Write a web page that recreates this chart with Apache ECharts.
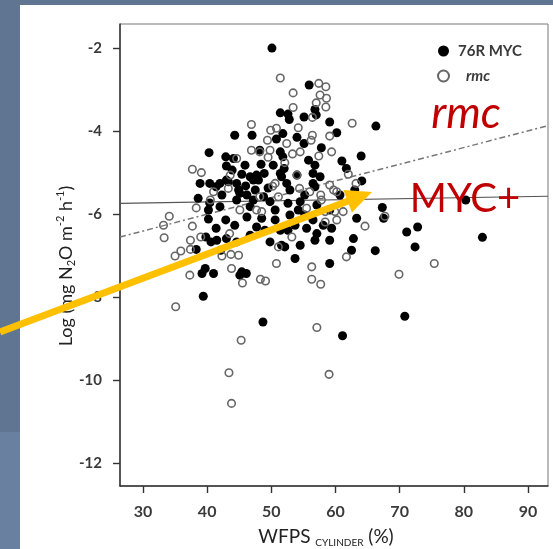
<!DOCTYPE html>
<html>
<head>
<meta charset="utf-8">
<script src="https://cdn.jsdelivr.net/npm/echarts@6/dist/echarts.min.js"></script>
<style>
html, body { margin: 0; padding: 0; background: #5f7591; }
#chart { width: 553px; height: 549px; }
</style>
</head>
<body>
<div id="chart"></div>
<script>
// Axis tick values
const xTicks = [30, 40, 50, 60, 70, 80, 90];
const yTicks = [-12, -10, -8, -6, -4, -2];

// 76R MYC plots: [WFPS %, log N2O flux]
const mycPoints = [
  [50.1,-2.00],[55.9,-2.89],[56.8,-3.48],[51.4,-3.56],[52.6,-3.59],[52.8,-3.72],[55.1,-3.66],[57.0,-3.61],[59.1,-3.78],[66.3,-3.88],
  [44.3,-4.10],[47.0,-4.10],[51.8,-4.06],[60.2,-4.04],[54.0,-4.15],[50.8,-4.19],[55.1,-4.30],[57.8,-4.40],[51.4,-4.50],[51.8,-4.62],
  [42.9,-4.62],[44.1,-4.66],[40.3,-4.52],[43.0,-4.84],[45.4,-5.04],[38.9,-5.26],[40.4,-5.26],[41.4,-5.34],[43.0,-5.18],[46.7,-5.10],
  [47.7,-5.06],[48.9,-5.02],[48.4,-4.80],[50.3,-4.82],[51.4,-5.02],[52.0,-4.90],[54.0,-5.06],[56.5,-5.02],[57.6,-5.10],[56.5,-5.26],
  [61.0,-4.72],[61.7,-4.90],[64.0,-4.60],[64.1,-5.20],[46.0,-5.32],[44.6,-5.26],[38.6,-5.62],[44.9,-5.42],[46.2,-5.54],[47.2,-5.66],
  [48.8,-5.58],[49.8,-5.70],[52.6,-5.74],[54.5,-5.70],[57.1,-5.78],[40.4,-5.73],[42.0,-5.82],[43.3,-5.22],
  [40.2,-5.90],[42.9,-6.14],[40.2,-6.12],[41.4,-6.34],[39.8,-6.55],[40.6,-6.67],[41.5,-6.63],[42.1,-6.87],[38.3,-6.85],[44.6,-6.67],
  [39.7,-7.31],[39.2,-7.43],[45.4,-7.39],[47.2,-5.18],[46.7,-5.82],[45.1,-5.50],[44.6,-5.66],[46.2,-6.07],[47.7,-6.31],[48.2,-4.46],
  [55.8,-4.70],[56.8,-4.82],[56.8,-5.34],[63.0,-5.42],[54.2,-5.90],[59.4,-6.34],[58.1,-6.27],[56.5,-6.14],[55.5,-6.34],[57.1,-6.47],
  [56.8,-6.63],[62.8,-6.59],[63.3,-6.10],[62.5,-6.87],[59.1,-7.19],[53.7,-7.07],[52.1,-6.79],[51.6,-6.75],[49.8,-6.67],[52.6,-6.39],
  [50.6,-6.14],[48.5,-6.10],[50.6,-5.90],[48.0,-5.18],[51.6,-5.10],[52.4,-5.26],[53.7,-6.27],[41.0,-7.43],[45.1,-7.47],[46.1,-7.43],
  [39.4,-7.98],[48.7,-8.60],[61.1,-8.93],[67.3,-5.84],[67.5,-6.10],[71.1,-6.43],[72.8,-6.31],[72.4,-6.79],[66.2,-6.88],[80.3,-5.66],
  [82.9,-6.56],[70.8,-8.46],[43.0,-6.59],[42.0,-5.26],[43.9,-4.94],[45.9,-4.82],[47.5,-5.42],[49.5,-5.37],[52.9,-5.42],[55.2,-5.54],
  [52.9,-6.02],[51.4,-6.39],[55.2,-6.02],[49.0,-6.39],[46.7,-6.51],[59.1,-5.90],[60.7,-5.54],[54.5,-6.75],[59.1,-6.63],[44.3,-6.27],
  [42.3,-5.54]
];

// rmc plots: [WFPS %, log N2O flux]
const rmcPoints = [
  [51.4,-2.72],[57.4,-2.85],[58.5,-2.93],[53.4,-3.08],[57.6,-3.13],[58.6,-3.21],[57.0,-3.32],[58.5,-3.42],[53.4,-3.43],[56.4,-3.67],
  [62.6,-3.81],[46.9,-3.84],[49.9,-3.98],[50.8,-3.93],[54.2,-3.92],[59.1,-4.12],[56.4,-4.10],[49.4,-4.22],[52.4,-4.30],[56.2,-4.22],
  [54.5,-4.50],[53.3,-4.55],[59.4,-4.50],[57.4,-4.60],[48.2,-4.50],[46.9,-4.46],[44.6,-4.66],[37.7,-4.92],[39.1,-5.00],[43.6,-5.06],
  [49.5,-4.63],[52.1,-4.76],[62.0,-5.04],[63.2,-5.26],[59.7,-5.42],[60.2,-5.46],[54.4,-5.38],[50.2,-5.33],[43.3,-5.38],[41.0,-5.46],
  [38.3,-5.85],[34.1,-6.05],[45.1,-5.90],[51.1,-5.58],[56.0,-5.46],[57.7,-5.54],[59.1,-5.30],[49.8,-4.46],[40.5,-5.66],
  [33.2,-6.27],[33.3,-6.57],[37.7,-6.29],[43.5,-6.47],[39.0,-6.55],[37.4,-6.63],[37.4,-6.85],[35.9,-6.89],[35.0,-7.01],[42.3,-7.01],
  [43.7,-6.97],[44.9,-6.99],[37.3,-7.47],[43.8,-7.31],[47.7,-5.90],[55.5,-5.86],[57.8,-5.66],[58.4,-5.94],[59.9,-5.94],[61.2,-5.94],
  [60.2,-6.14],[58.4,-6.19],[64.6,-6.29],[61.7,-7.03],[56.3,-7.27],[51.1,-6.79],[50.8,-7.19],[53.2,-6.55],[48.5,-5.94],[48.2,-5.58],
  [50.6,-5.26],[54.0,-5.06],[45.5,-7.66],[48.3,-7.57],[49.1,-7.61],[56.3,-7.57],[57.7,-7.69],[35.1,-8.23],[57.1,-8.73],[45.3,-9.04],
  [43.4,-9.82],[59.0,-9.86],[43.8,-10.56],[75.4,-7.19],[69.9,-7.45],[67.7,-6.05]
];

// Regression lines across the plotted WFPS range
const mycFit = [[26.42, -5.74], [93.12, -5.57]];
const rmcFit = [[26.42, -6.55], [93.12, -3.87]];

const FONT = 'Lato, "Open Sans", sans-serif';
const chart = echarts.init(document.getElementById('chart'), null, { renderer: 'canvas' });

// Yellow pointer arrow (tail and tip in pixels)
const tail = [0, 332], tip = [372, 192];
const dx = tip[0] - tail[0], dy = tip[1] - tail[1];
const len = Math.hypot(dx, dy), ux = dx / len, uy = dy / len;
const headLen = 26, headHalf = 12;
const base = [tip[0] - ux * headLen, tip[1] - uy * headLen];
const nx = -uy, ny = ux;

const option = {
  backgroundColor: '#5f7591',
  animation: false,
  grid: {
    left: 120, top: 24, right: 5, bottom: 63,
    show: true, backgroundColor: '#fff', borderColor: '#777', borderWidth: 1
  },
  xAxis: {
    type: 'value', min: 26.42, max: 93.12,
    axisLine: { show: true, onZero: false, lineStyle: { color: '#333', width: 1.5 } },
    axisTick: { show: true, length: 7, customValues: xTicks, lineStyle: { color: '#333', width: 1.4 } },
    axisLabel: { customValues: xTicks, margin: 18, fontFamily: FONT, fontSize: 16, fontWeight: 'bold', color: '#3a3a3a' },
    splitLine: { show: false }
  },
  yAxis: {
    type: 'value', min: -12.55, max: -1.42,
    axisLine: { show: true, onZero: false, lineStyle: { color: '#333', width: 1.5 } },
    axisTick: { show: true, length: 7, customValues: yTicks, lineStyle: { color: '#333', width: 1.4 } },
    axisLabel: { customValues: yTicks, margin: 18, fontFamily: FONT, fontSize: 15, fontWeight: 'bold', color: '#3a3a3a' },
    splitLine: { show: false }
  },
  legend: {
    orient: 'vertical', left: 432, top: 38,
    itemWidth: 11, itemHeight: 11, itemGap: 9, icon: 'circle',
    data: ['76R MYC', 'rmc'],
    formatter: n => (n === 'rmc' ? '{i|rmc}' : n),
    textStyle: {
      fontFamily: FONT, fontSize: 15, fontWeight: 'bold', color: '#3a3a3a', lineHeight: 16, padding: [0, 0, 0, 4],
      rich: { i: { fontFamily: FONT, fontSize: 15, fontStyle: 'italic', fontWeight: 'bold', color: '#3a3a3a', padding: [0, 0, 0, 8] } }
    }
  },
  series: [
    {
      name: 'MYC fit', type: 'line', data: mycFit, symbol: 'none', silent: true, z: 2,
      lineStyle: { color: '#555', width: 1.2 }
    },
    {
      name: 'rmc fit', type: 'line', data: rmcFit, symbol: 'none', silent: true, z: 2,
      lineStyle: { color: '#777', width: 1.5, type: [6, 3, 2, 3] }
    },
    {
      name: '76R MYC', type: 'scatter', data: mycPoints, symbol: 'circle', symbolSize: 9, z: 3,
      itemStyle: { color: '#000', opacity: 1 }
    },
    {
      name: 'rmc', type: 'scatter', data: rmcPoints, symbol: 'circle', symbolSize: 7.5, z: 4,
      itemStyle: { color: 'rgba(255,255,255,0)', borderColor: '#666', borderWidth: 1.6, opacity: 1 }
    }
  ],
  graphic: [
    { type: 'rect', z: -10, shape: { x: 20, y: 5, width: 533, height: 544 }, style: { fill: '#fff' } },
    { type: 'rect', z: -10, shape: { x: 0, y: 432, width: 20, height: 117 }, style: { fill: '#6a80a0' } },
    {
      type: 'text', z: 50, x: 66, y: 266, rotation: Math.PI / 2,
      style: {
        text: 'Log (mg N{sub|2}O m{sup|-2} h{sup|-1})',
        align: 'center', verticalAlign: 'middle',
        fontFamily: FONT, fontSize: 18, fill: '#222', lineHeight: 22,
        rich: {
          sub: { fontFamily: FONT, fontSize: 11, fill: '#222', verticalAlign: 'bottom', lineHeight: 11 },
          sup: { fontFamily: FONT, fontSize: 11, fill: '#222', verticalAlign: 'top', lineHeight: 11 }
        }
      }
    },
    {
      type: 'text', z: 50, x: 326, y: 537,
      style: {
        text: 'WFPS {sub|CYLINDER} (%)',
        align: 'center', verticalAlign: 'middle',
        fontFamily: FONT, fontSize: 19, fill: '#222', lineHeight: 22,
        rich: { sub: { fontFamily: FONT, fontSize: 10, fill: '#222', verticalAlign: 'bottom', lineHeight: 8 } }
      }
    },
    {
      type: 'text', z: 50, x: 466, y: 114,
      style: { text: 'rmc', align: 'center', verticalAlign: 'middle', fontFamily: FONT, fontSize: 44, fontStyle: 'italic', fill: '#c00000' }
    },
    {
      type: 'text', z: 50, x: 465, y: 199,
      style: { text: 'MYC+', align: 'center', verticalAlign: 'middle', fontFamily: FONT, fontSize: 40, fill: '#c00000' }
    },
    {
      type: 'line', z: 60,
      shape: { x1: tail[0], y1: tail[1], x2: base[0] + ux * 2, y2: base[1] + uy * 2 },
      style: { stroke: '#ffc000', lineWidth: 7 }
    },
    {
      type: 'polygon', z: 60,
      shape: { points: [tip, [base[0] + nx * headHalf, base[1] + ny * headHalf], [base[0] - nx * headHalf, base[1] - ny * headHalf]] },
      style: { fill: '#ffc000' }
    }
  ]
};

chart.setOption(option);
</script>
</body>
</html>
